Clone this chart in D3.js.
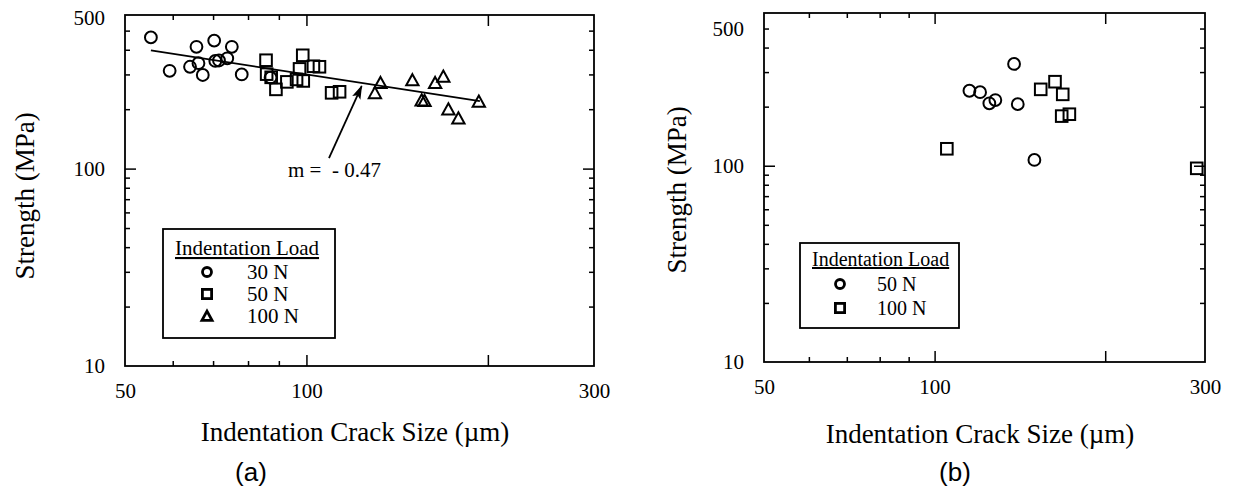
<!DOCTYPE html>
<html>
<head>
<meta charset="utf-8">
<script src="https://cdn.jsdelivr.net/npm/d3@7"></script>
<style>
  body { margin: 0; background: #fff; }
  svg { display: block; background: #fff; }
</style>
</head>
<body>
<svg id="chart" width="1254" height="486"></svg>
<script>
// ---- axis ticks (shared by both panels) ----
const xLabelTicks = [50, 100, 300];
const xMajorTicks = [100, 200];
const xMinorTicks = [60, 70, 80, 90];
const yLabelTicks = [10, 100, 500];
const yMajorTicks = [100];
const yMinorTicks = [20, 30, 40, 50, 60, 70, 80, 90, 200, 300, 400, 500];

// ---- panel (a): crack size (um) vs strength (MPa) ----
const loadsA = ["30 N", "50 N", "100 N"];
const crackA30 = [55.2, 59.3, 64.1, 65.7, 66.2, 67.3, 70.3, 70.6, 71.6, 73.9, 75.2, 78.1, 87.2];
const strengthA30 = [462, 313, 328, 414, 342, 298, 445, 351, 353, 362, 414, 300, 289];
const crackA50 = [85.7, 85.9, 87.4, 89.0, 92.8, 98.6, 97.4, 96.3, 98.8, 102.7, 105.1, 110.1, 113.5];
const strengthA50 = [354, 301, 290, 252, 275, 375, 320, 283, 278, 330, 328, 242, 245];
const crackA100 = [129.9, 132.7, 149.9, 155.3, 157.0, 163.5, 168.7, 172.0, 178.7, 193.2];
const strengthA100 = [242, 272, 281, 222, 221, 272, 293, 200, 180, 219];

// power-law fit: strength = fitAt100 * (crack / 100) ^ fitSlope
const fitSlope = -0.47;
const fitAt100 = 300;
const fitRange = [55.2, 194];
const slopeLabel = "m =  - 0.47";
const slopeLabelAt = [93.2, 90.7];
const arrowFrom = [109, 113];
const arrowTo = [123.5, 262];

// ---- panel (b) ----
const loadsB = ["50 N", "100 N"];
const crackB50 = [115.2, 120.3, 124.9, 128.0, 138.1, 140.2, 150.0];
const strengthB50 = [241, 237, 208, 216, 330, 206, 107];
const crackB100 = [105.1, 153.9, 163.1, 168.3, 167.6, 172.9, 290.1];
const strengthB100 = [122, 245, 268, 231, 179, 183, 97];

const xTitle = "Indentation Crack Size (\u00B5m)";
const yTitle = "Strength (MPa)";

const SERIF = "'Liberation Serif', 'Times New Roman', Times, serif";
const SANS = "'Liberation Sans', Arial, Helvetica, sans-serif";

const svg = d3.select("#chart");

svg.append("defs").append("marker")
  .attr("id", "arrowhead")
  .attr("viewBox", "0 0 14 10")
  .attr("refX", 13).attr("refY", 5)
  .attr("markerWidth", 14).attr("markerHeight", 10)
  .attr("markerUnits", "userSpaceOnUse")
  .attr("orient", "auto")
  .append("path")
  .attr("d", "M0,0.5 L14,5 L0,9.5 L3,5 Z")
  .attr("fill", "#000");

function drawMarker(sel, shape, s, sw) {
  let el;
  if (shape === "circle") {
    el = sel.append("circle").attr("r", s);
  } else if (shape === "square") {
    el = sel.append("rect").attr("x", -s).attr("y", -s).attr("width", 2 * s).attr("height", 2 * s);
  } else {
    const h = s * 1.05;
    el = sel.append("path").attr("d", `M0,${-h} L${s * 1.1},${h * 0.9} L${-s * 1.1},${h * 0.9} Z`);
  }
  el.attr("fill", "none").attr("stroke", "#000").attr("stroke-width", sw).attr("stroke-linejoin", "miter");
  return el;
}

function tickSet(g, makeAxis, transform, values, len) {
  g.append("g")
    .attr("transform", transform)
    .call(makeAxis().tickValues(values).tickSize(-len).tickSizeOuter(0).tickFormat(""))
    .call(s => s.select(".domain").remove())
    .selectAll("line").attr("stroke", "#000").attr("stroke-width", 1.5);
}

function drawPanel(cfg) {
  const x = d3.scaleLog().domain([50, 300]).range([cfg.left, cfg.right]);
  const y = d3.scaleLog().domain([10, 600]).range([cfg.bottom, cfg.top]);
  const g = svg.append("g");

  // inward ticks on all four sides
  const sides = [
    [() => d3.axisBottom(x), `translate(0,${cfg.bottom})`, xMinorTicks, xMajorTicks],
    [() => d3.axisTop(x), `translate(0,${cfg.top})`, xMinorTicks, xMajorTicks],
    [() => d3.axisLeft(y), `translate(${cfg.left},0)`, yMinorTicks, yMajorTicks],
    [() => d3.axisRight(y), `translate(${cfg.right},0)`, yMinorTicks, yMajorTicks]
  ];
  sides.forEach(([make, tr, minor, major]) => {
    tickSet(g, make, tr, minor, 5);
    tickSet(g, make, tr, major, 11);
  });

  // frame
  g.append("rect")
    .attr("x", cfg.left).attr("y", cfg.top)
    .attr("width", cfg.right - cfg.left).attr("height", cfg.bottom - cfg.top)
    .attr("fill", "none").attr("stroke", "#000").attr("stroke-width", 1.8);

  // tick labels
  const xl = g.append("g")
    .attr("transform", `translate(0,${cfg.bottom})`)
    .call(d3.axisBottom(x).tickValues(xLabelTicks).tickSize(0).tickPadding(17).tickFormat(d3.format("d")));
  xl.select(".domain").remove();
  xl.attr("font-size", 21).attr("font-family", SERIF);

  const yl = g.append("g")
    .attr("transform", `translate(${cfg.left},0)`)
    .call(d3.axisLeft(y).tickValues(yLabelTicks).tickSize(0).tickPadding(20).tickFormat(d3.format("d")));
  yl.select(".domain").remove();
  yl.attr("font-size", 21).attr("font-family", SERIF);
  if (cfg.topLabelFlush) {
    // top label sits level with the upper edge of the frame
    yl.selectAll(".tick").filter(d => d === 500).select("text")
      .attr("y", cfg.top + 3 - y(500));
  }

  // axis titles
  g.append("text")
    .attr("x", cfg.xTitleX).attr("y", cfg.xTitleY)
    .attr("text-anchor", "middle")
    .attr("font-family", SERIF).attr("font-size", 27)
    .text(xTitle);
  g.append("text")
    .attr("transform", `translate(${cfg.yTitleX},${cfg.yTitleY}) rotate(-90)`)
    .attr("text-anchor", "middle")
    .attr("font-family", SERIF).attr("font-size", 27)
    .text(yTitle);

  // panel tag
  g.append("text")
    .attr("x", cfg.tagX).attr("y", 481)
    .attr("text-anchor", "middle")
    .attr("font-family", SANS).attr("font-size", 26)
    .text(cfg.tag);

  // fit line and annotation
  if (cfg.fit) {
    const line = d3.line().x(d => x(d[0])).y(d => y(d[1]));
    const pts = fitRange.map(c => [c, fitAt100 * Math.pow(c / 100, fitSlope)]);
    g.append("path").attr("d", line(pts))
      .attr("fill", "none").attr("stroke", "#000").attr("stroke-width", 1.8);
    g.append("line")
      .attr("x1", x(arrowFrom[0])).attr("y1", y(arrowFrom[1]))
      .attr("x2", x(arrowTo[0])).attr("y2", y(arrowTo[1]))
      .attr("stroke", "#000").attr("stroke-width", 1.8)
      .attr("marker-end", "url(#arrowhead)");
    g.append("text")
      .attr("x", x(slopeLabelAt[0])).attr("y", y(slopeLabelAt[1]))
      .attr("font-family", SERIF).attr("font-size", 21)
      .style("white-space", "pre")
      .text(slopeLabel);
  }

  // data markers
  cfg.series.forEach(s => {
    s.crack.forEach((c, i) => {
      const m = g.append("g").attr("transform", `translate(${x(c)},${y(s.strength[i])})`);
      drawMarker(m, s.shape, s.shape === "triangle" ? 5.6 : (s.shape === "square" ? 5.8 : 5.9), 2);
    });
  });

  // legend
  const L = cfg.legend;
  const lg = g.append("g");
  lg.append("rect")
    .attr("x", L.x).attr("y", L.y).attr("width", L.w).attr("height", L.h)
    .attr("fill", "#fff").attr("stroke", "#000").attr("stroke-width", 1.8);
  lg.append("text")
    .attr("x", L.titleX).attr("y", L.titleY)
    .attr("font-family", SERIF).attr("font-size", L.fs)
    .style("text-decoration", "underline")
    .text("Indentation Load");
  cfg.series.forEach((s, i) => {
    const cy = L.rowY[i];
    const m = lg.append("g").attr("transform", `translate(${L.symX},${cy})`);
    drawMarker(m, s.shape, s.shape === "circle" ? 4.5 : 4.6, 2.8);
    lg.append("text")
      .attr("x", L.textX).attr("y", cy + 7)
      .attr("font-family", SERIF).attr("font-size", L.fs)
      .text(s.name);
  });
}

drawPanel({
  left: 125, right: 594, top: 15, bottom: 366,
  topLabelFlush: true,
  xTitleX: 355, xTitleY: 441,
  yTitleX: 34, yTitleY: 196,
  tag: "(a)", tagX: 251,
  fit: true,
  series: [
    { name: loadsA[0], shape: "circle", crack: crackA30, strength: strengthA30 },
    { name: loadsA[1], shape: "square", crack: crackA50, strength: strengthA50 },
    { name: loadsA[2], shape: "triangle", crack: crackA100, strength: strengthA100 }
  ],
  legend: { x: 163, y: 229, w: 172, h: 109, titleX: 175, titleY: 255, fs: 21,
            symX: 207, textX: 247, rowY: [272, 294, 316] }
});

drawPanel({
  left: 764, right: 1205, top: 13, bottom: 362,
  topLabelFlush: false,
  xTitleX: 980, xTitleY: 443,
  yTitleX: 686, yTitleY: 190,
  tag: "(b)", tagX: 955,
  fit: false,
  series: [
    { name: loadsB[0], shape: "circle", crack: crackB50, strength: strengthB50 },
    { name: loadsB[1], shape: "square", crack: crackB100, strength: strengthB100 }
  ],
  legend: { x: 800, y: 243, w: 159, h: 85, titleX: 812, titleY: 266, fs: 20,
            symX: 840, textX: 877, rowY: [284, 308] }
});
</script>
</body>
</html>
